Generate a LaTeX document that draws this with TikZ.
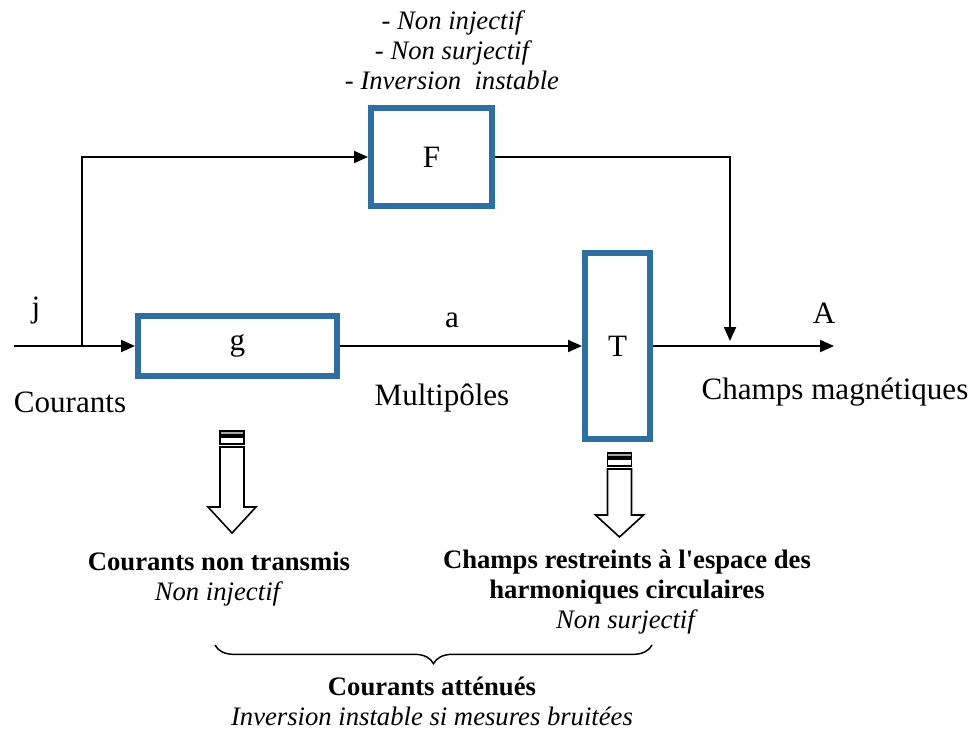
\documentclass[tikz,border=0pt]{standalone}
\usepackage{fontspec}
\setmainfont{Liberation Serif}
\usetikzlibrary{arrows.meta,decorations.pathreplacing}

\definecolor{boxblue}{RGB}{47,110,160}
\newcommand{\bigtxt}{\fontsize{23.3}{28}\selectfont}
\newcommand{\smalltxt}{\fontsize{20}{22.6}\selectfont}
% hollow arrow with two stripes: x, top, start of head, tip
\newcommand{\stripedarrow}[4]{%
  \draw[line width=1.2pt,fill=gray!70] (#1-12,#2) rectangle (#1+12,#2+4);
  \draw[line width=1.2pt] (#1-12,#2+6) rectangle (#1+12,#2+13);
  \draw[line width=1.2pt] (#1-12,#2+16) -- (#1-12,#3) -- (#1-24,#3) -- (#1,#4)
     -- (#1+24,#3) -- (#1+12,#3) -- (#1+12,#2+16) -- cycle;
}

\begin{document}
\begin{tikzpicture}[x=0.75pt,y=-0.75pt,
    blk/.style={draw=boxblue,line width=4.5pt,fill=white,inner sep=0pt,font=\bigtxt},
    flow/.style={line width=1.5pt,-{Triangle[length=10.5pt,width=9pt]}},
    lbl/.style={inner sep=0pt,font=\bigtxt},
    note/.style={inner sep=0pt,align=center,font=\smalltxt}]
\useasboundingbox (0,0) rectangle (972,729);

% blocks
\node[blk,minimum width=90.75pt,minimum height=73.5pt] (F) at (431.5,157) {F};
\node[blk,minimum width=149.25pt,minimum height=45pt] (g) at (237.5,346) {g};
\node[blk,minimum width=48.75pt,minimum height=139.5pt] (T) at (617.5,346) {T};

\coordinate (in) at (14,346);
\coordinate (split) at (82,346);
\coordinate (join) at (730,341);
\coordinate (out) at (834,346);

% connectors
\draw[line width=1.5pt] (in) -- (split);
\draw[flow] (split) -- (g.west);
\draw[flow] (split) |- (F.west);
\draw[flow] (g.east) -- (T.west);
\draw[flow] (T.east) -- (out);
\draw[flow] (F.east) -| (join);

% labels
\node[lbl] (lj) at (36,311) {j};
\node[lbl] (la) at (452,320) {a};
\node[lbl] (lA) at (824,313) {A};
\node[lbl] (lcour) at (70,402) {Courants};
\node[lbl] (lmulti) at (442,398) {Multipôles};
\node[lbl] (lchamps) at (835,392) {Champs magnétiques};

\node[note,font=\smalltxt\itshape] (props) at (452,50)
  {- Non injectif\\- Non surjectif\\- Inversion\ \ instable};

% consequences
\stripedarrow{232}{431}{507}{533}
\stripedarrow{619.5}{453}{515}{537}

\node[note] (gnote) at (219,579)
  {\textbf{Courants non transmis}\\\textit{Non injectif}};
\node[note] (tnote) at (627,592)
  {\textbf{Champs restreints à l\textquotesingle espace des}\\\textbf{harmoniques circulaires}\\\textit{Non surjectif}};

\draw[line width=1.1pt,decorate,decoration={brace,amplitude=14pt}] (652,645) -- (215,645);
\node[note] (bnote) at (432,701)
  {\textbf{Courants atténués}\\\textit{Inversion instable si mesures bruitées}};
\end{tikzpicture}
\end{document}
